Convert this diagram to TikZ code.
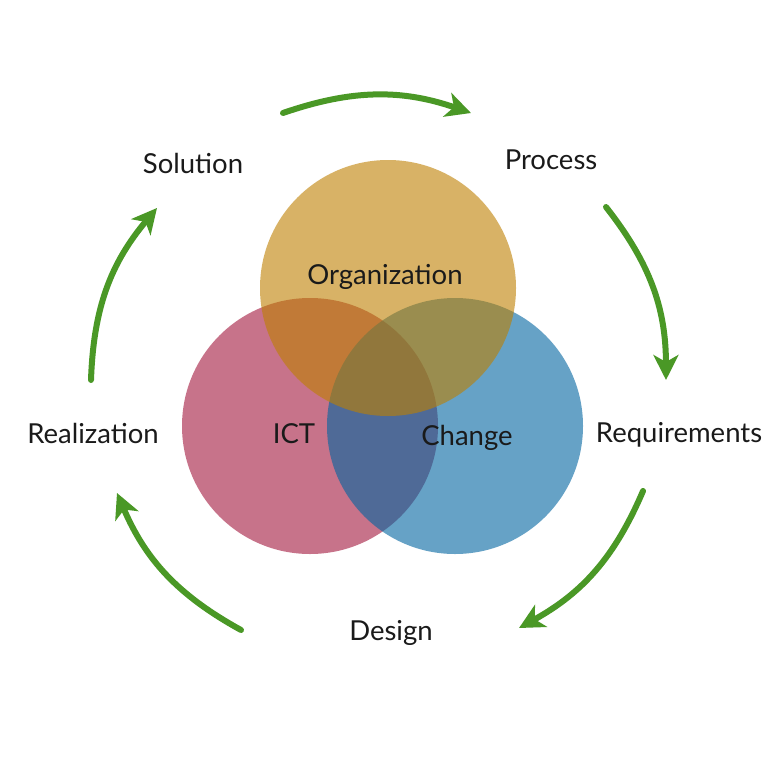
\documentclass[tikz,border=0pt]{standalone}
\usepackage{fontspec}
\setmainfont{Lato}
\usetikzlibrary{arrows.meta}
\definecolor{cred}{RGB}{163,23,60}
\definecolor{cblue}{RGB}{0,100,160}
\definecolor{corg}{RGB}{190,128,0}
\definecolor{cgreen}{RGB}{74,152,38}
\definecolor{ctext}{RGB}{26,26,26}
\tikzset{
  lbl/.style={anchor=base, inner sep=0pt, text=ctext, font=\fontsize{27.5}{32}\selectfont},
  cyc/.style={draw=cgreen, line width=6pt, line cap=round,
    -{Stealth[length=25pt,width=25pt,inset=7pt]}},
  venn/.style={fill opacity=0.6, draw=none}
}
\begin{document}
\begin{tikzpicture}[x=1pt,y=-1pt]
\useasboundingbox (0,0) rectangle (768,768);
\fill[white] (0,0) rectangle (768,768);
% circles
\fill[venn, cred] (310,426) circle[radius=128];
\fill[venn, cblue] (455,426) circle[radius=128];
\fill[venn, corg] (388,288) circle[radius=128];
% labels
\node[lbl] (org) at (385,284) {Organization};
\node[lbl] (ict) at (294,443) {ICT};
\node[lbl] (chg) at (467,445) {Change};
\node[lbl] (sol) at (193,173) {Solution};
\node[lbl] (pro) at (551,169) {Process};
\node[lbl] (req) at (679,442) {Requirements};
\node[lbl] (des) at (391,640) {Design};
\node[lbl] (rea) at (93,443) {Realization};
% arrow end points
\coordinate (a1s) at (283,113); \coordinate (a1e) at (471,113);
\coordinate (a2s) at (606,207); \coordinate (a2e) at (666,380);
\coordinate (a3s) at (643,491); \coordinate (a3e) at (519,628);
\coordinate (a4s) at (241,630); \coordinate (a4e) at (117,493);
\coordinate (a5s) at (91,380);  \coordinate (a5e) at (157,208);
\draw[cyc] (a1s) to[bend left=19] (a1e);
\draw[cyc] (a2s) to[bend left=19] (a2e);
\draw[cyc] (a3s) to[bend left=19] (a3e);
\draw[cyc] (a4s) to[bend left=19] (a4e);
\draw[cyc] (a5s) to[bend left=19] (a5e);
\end{tikzpicture}
\end{document}
